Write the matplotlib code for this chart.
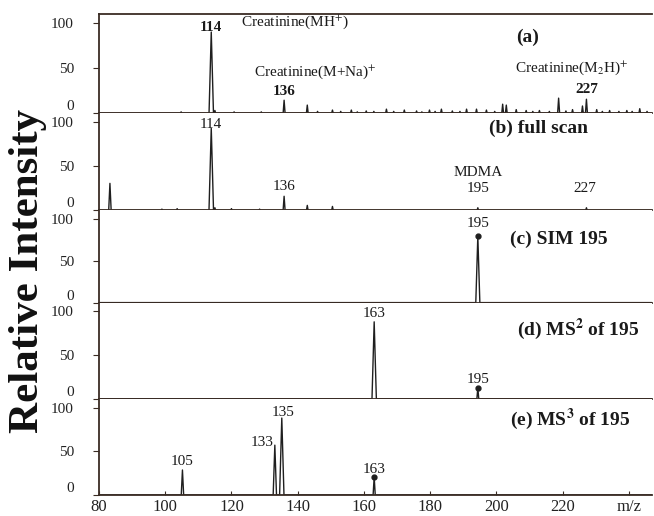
import numpy as np
import matplotlib
matplotlib.use("Agg")
import matplotlib.pyplot as plt

plt.rcParams['font.family'] = ['Liberation Serif', 'DejaVu Serif']
plt.rcParams['mathtext.fontset'] = 'stix'

# peak lists (m/z, relative intensity)
mz_a = [104.8, 113.9, 115, 120.8, 129, 135.9, 142.9, 146, 150.5, 153, 156.2, 158,
        160.7, 163, 166.8, 169, 172.2, 175.9, 177.5, 179.8, 181.5, 183.4, 186.7, 189,
        191, 194, 197, 199.5, 201.9, 203, 206, 209, 211, 213, 216, 218.8, 221,
        223, 226, 227.2, 230.3, 232, 234.2, 237, 239.4, 241, 243.3, 245.5]
int_a = [1.5, 90, 3, 1.5, 1.5, 14.4, 9, 2, 3.5, 2, 3.5, 1.5,
         2.5, 2, 4.5, 2, 3.5, 2.5, 1.5, 3.5, 2, 4.5, 2.5, 2,
         4.5, 4.5, 3.5, 2, 10, 9, 4, 3, 2, 3, 2, 16.7, 2.5,
         4, 8, 15.5, 4, 2, 3, 2, 3, 2, 5, 2]

mz_b = [83.3, 99, 103.6, 113.9, 115, 120, 128.5, 135.9, 142.9, 150.5, 194.4, 227.2]
int_b = [30.6, 1.5, 2, 93, 3, 2, 1.5, 16, 5.7, 4.5, 3, 3]

mz_c = [194.4]
int_c = [79]

mz_d = [163.1, 194.4]
int_d = [88, 12.6]

mz_e = [105.2, 133.1, 135.2, 163.1]
int_e = [28.6, 57, 88, 20.6]

xtick_vals = [80, 100, 120, 140, 160, 180, 200, 220, 240]
xtick_text = ['80', '100', '120', '140', '160', '180', '200', '220', 'm/z']
ytick_vals = [0, 50, 100]

line_col = '#1f1f1f'
spine_col = '#3a2c24'


def profile(mz, inten):
    # turn a stick list into a thin triangular profile along the baseline
    xs = [80]
    ys = [0]
    for m, h in sorted(zip(mz, inten)):
        w = 0.22 + 0.005 * h
        xs += [m - w, m, m + w]
        ys += [0, h, 0]
    xs.append(247)
    ys.append(0)
    return xs, ys


fig, axes = plt.subplots(5, 1, figsize=(6.54, 5.16), dpi=100, sharex=True,
                         gridspec_kw={'height_ratios': [99, 97, 92, 96, 96]})
fig.subplots_adjust(left=99/654, right=652/654, top=1-14/516, bottom=1-495/516, hspace=0)

data = [(mz_a, int_a), (mz_b, int_b), (mz_c, int_c), (mz_d, int_d), (mz_e, int_e)]
for i, (ax, (mz, inten)) in enumerate(zip(axes, data)):
    xs, ys = profile(mz, inten)
    ax.plot(xs, ys, color=line_col, lw=1.0)
    ax.set_xlim(80, 247)
    ax.set_ylim(0, 110)
    ax.set_yticks(ytick_vals)
    ax.set_yticklabels(['0', '50', '100'], fontsize=11, color='#222222')
    for lab in ax.get_yticklabels():
        if lab.get_text() == '0':
            lab.set_va('bottom')
    ax.tick_params(axis='y', direction='out', length=4, width=0.8, color=spine_col, pad=14)
    ax.spines['right'].set_visible(False)
    ax.spines['top'].set_visible(i == 0)
    for s in ['left', 'bottom', 'top']:
        ax.spines[s].set_color(spine_col)
        ax.spines[s].set_linewidth(1.3)
    if i < 4:
        ax.tick_params(axis='x', bottom=False, labelbottom=False)

axes[4].set_xticks(xtick_vals)
axes[4].set_xticklabels(xtick_text, fontsize=12, color='#222222')
axes[4].tick_params(axis='x', direction='in', length=3, pad=3, color=spine_col)

# markers on the labelled precursor / fragment peaks
axes[2].plot([mz_c[0]], [int_c[0]], 'o', color=line_col, ms=3.5)
axes[3].plot([mz_d[1]], [int_d[1]], 'o', color=line_col, ms=3.5)
axes[4].plot([mz_e[3]], [int_e[3]], 'o', color=line_col, ms=3.5)

bold = dict(fontweight='bold', fontsize=14, color='#1a1a1a', va='center')
reg = dict(fontsize=11, color='#1a1a1a', va='center')

# (a)
ax = axes[0]
ax.text(113.9, 95, '114', ha='center', fontweight='bold', **reg)
ax.text(122.9, 101, 'Creatinine(MH$^{+}$)', ha='left', **reg)
ax.text(126.9, 46, 'Creatinine(M+Na)$^{+}$', ha='left', **reg)
ax.text(135.9, 24, '136', ha='center', fontweight='bold', **reg)
ax.text(205.5, 50, 'Creatinine(M$_{2}$H)$^{+}$', ha='left', **reg)
ax.text(227.3, 26, '227', ha='center', fontweight='bold', **reg)
ax.text(209.4, 84, '(a)', ha='center', **bold)

# (b)
ax = axes[1]
ax.text(113.9, 97, '114', ha='center', **reg)
ax.text(135.9, 27, '136', ha='center', **reg)
ax.text(194.6, 43, 'MDMA', ha='center', **reg)
ax.text(194.4, 25, '195', ha='center', **reg)
ax.text(226.8, 25, '227', ha='center', **reg)
ax.text(197.9, 93, '(b) full scan', ha='left', **bold)

# (c)
ax = axes[2]
ax.text(194.4, 94, '195', ha='center', **reg)
ax.text(204, 75, '(c) SIM 195', ha='left', **bold)

# (d)
ax = axes[3]
ax.text(163.1, 97, '163', ha='center', **reg)
ax.text(194.4, 22, '195', ha='center', **reg)
ax.text(206.1, 79, '(d) MS$^{\\mathbf{2}}$ of 195', ha='left', **bold)

# (e)
ax = axes[4]
ax.text(105.2, 38, '105', ha='center', **reg)
ax.text(132.6, 60, '133', ha='right', **reg)
ax.text(135.6, 94, '135', ha='center', **reg)
ax.text(163.1, 29, '163', ha='center', **reg)
ax.text(204, 86, '(e) MS$^{\\mathbf{3}}$ of 195', ha='left', **bold)

fig.text(0.043, 0.475, 'Relative Intensity', rotation=90, ha='center', va='center',
         fontsize=31, fontweight='bold', color='#111111')

plt.savefig('out.png', dpi=100)
